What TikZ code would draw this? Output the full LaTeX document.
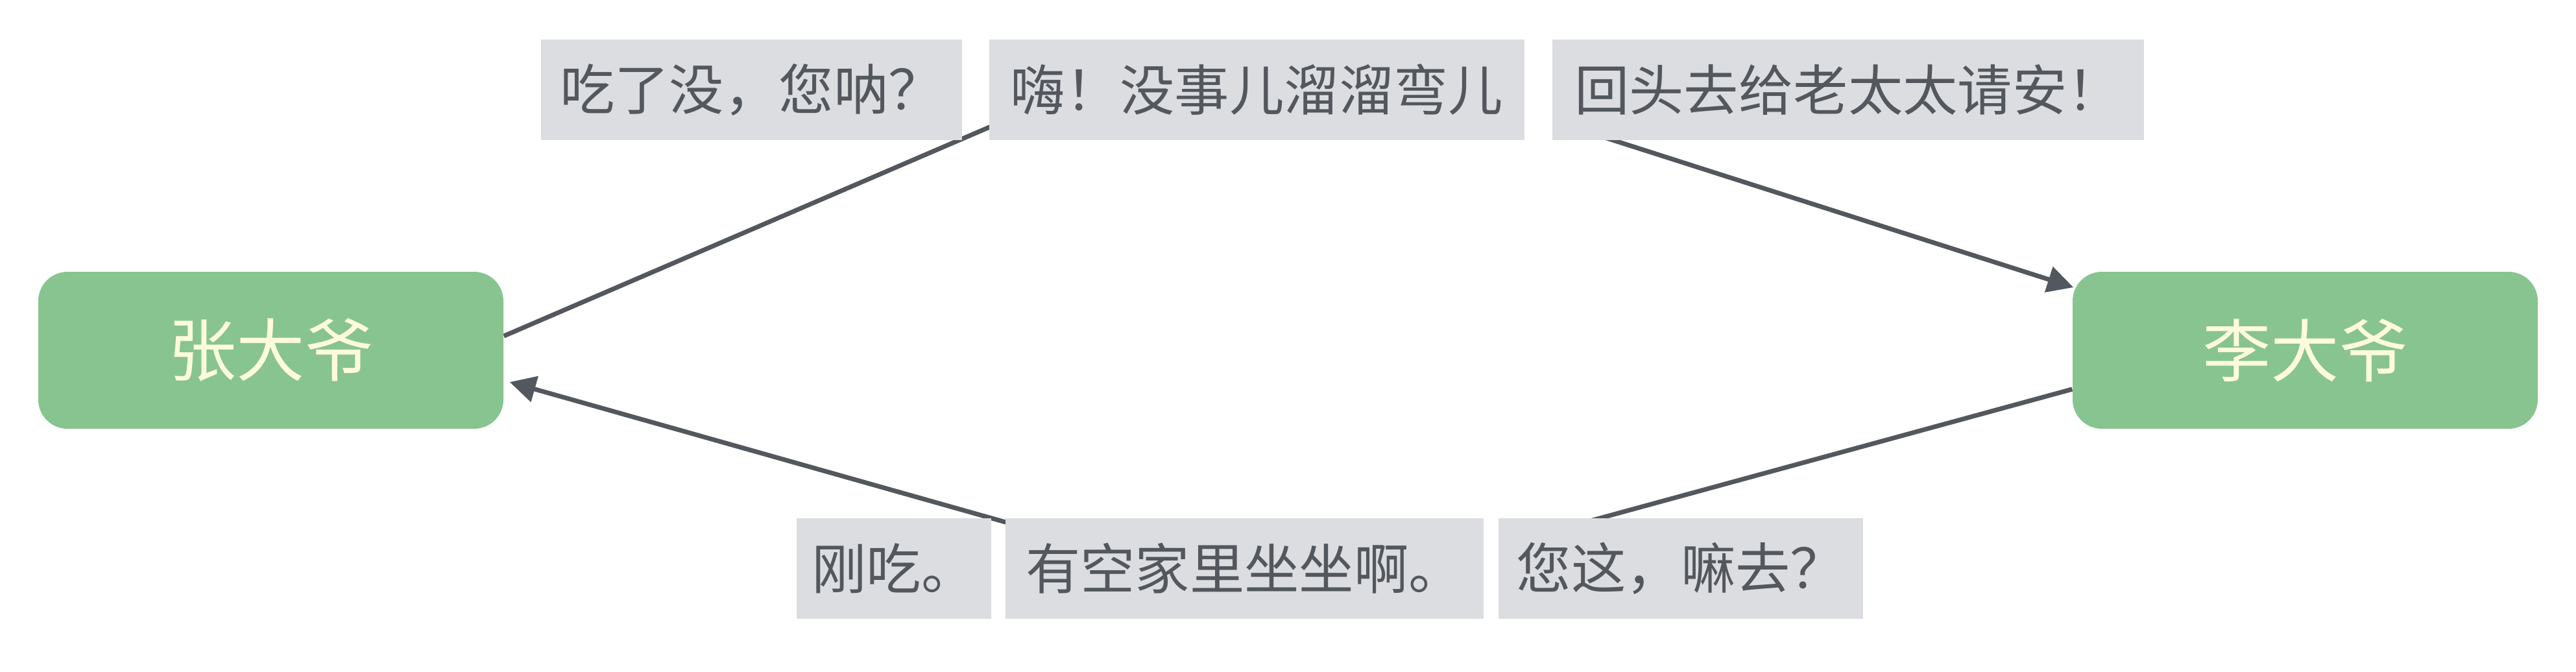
\documentclass[tikz,border=0pt]{standalone}
\usepackage{fontspec}
\newfontfamily\cjk{Noto Sans CJK SC}
\usetikzlibrary{arrows.meta,backgrounds,calc}
\definecolor{boxgreen}{RGB}{136,196,143}
\definecolor{paleyellow}{RGB}{253,251,220}
\definecolor{labelgray}{RGB}{220,221,224}
\definecolor{inkgray}{RGB}{83,87,94}
\tikzset{
  person/.style={fill=boxgreen, draw=none, rounded corners=0.45cm, text=paleyellow,
    font=\cjk\fontsize{30}{32}\selectfont, minimum width=7.17cm, minimum height=2.42cm, inner sep=0pt},
  saying/.style={fill=labelgray, draw=none, text=inkgray,
    font=\cjk\fontsize{24}{26}\selectfont, minimum height=1.55cm, inner sep=0pt},
  talk/.style={draw=inkgray, line width=2pt},
  talkarrow/.style={talk, -{Triangle[length=0.4cm,width=0.4cm]}}
}
\begin{document}
\begin{tikzpicture}
\useasboundingbox (0,0) rectangle (39.71,-10.35);
\node[person] (zhang) at (4.175,-5.40) {张大爷};
\node[person] (li) at (35.535,-5.40) {李大爷};
\node[saying, minimum width=6.49cm] (t1) at (11.585,-1.385) {吃了没，您呐？};
\node[saying, minimum width=8.25cm] (t2) at (19.375,-1.385) {嗨！没事儿溜溜弯儿};
\node[saying, minimum width=9.12cm] (t3) at (28.49,-1.385) {回头去给老太太请安！};
\node[saying, minimum width=3.00cm] (b1) at (13.78,-8.765) {刚吃。};
\node[saying, minimum width=7.37cm] (b2) at (19.185,-8.765) {有空家里坐坐啊。};
\node[saying, minimum width=5.62cm] (b3) at (25.91,-8.765) {您这，嘛去？};
\coordinate (h1) at (16.60,-1.38);
\coordinate (h2) at (24.30,-1.98);
\coordinate (h3) at (24.00,-8.17);
\coordinate (h4) at (18.05,-8.77);
\begin{pgfonlayer}{background}
\draw[talk] ($(zhang.east)+(0,0.22)$) -- (h1);
\draw[talkarrow] (h2) -- ($(li.west)+(0.02,0.97)$);
\draw[talk] ($(li.west)+(0,-0.60)$) -- (h3);
\draw[talkarrow] (h4) -- ($(zhang.east)+(0.09,-0.49)$);
\end{pgfonlayer}
\end{tikzpicture}
\end{document}
